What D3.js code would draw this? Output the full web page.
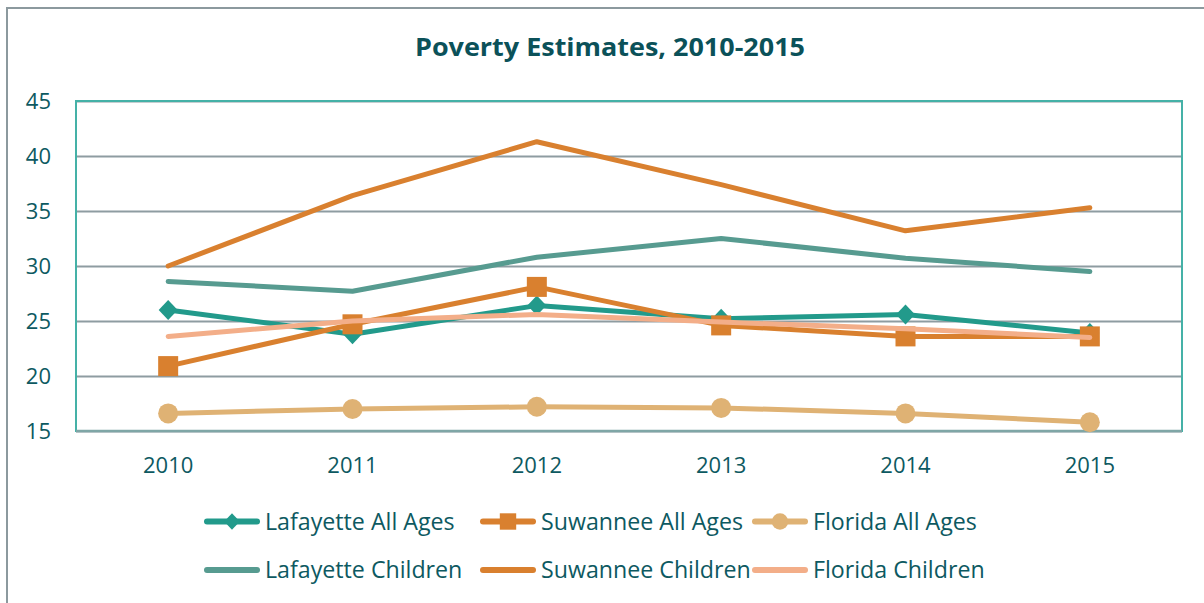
<!DOCTYPE html>
<html><head><meta charset="utf-8">
<script src="https://cdn.jsdelivr.net/npm/d3@7/dist/d3.min.js"></script>
<style>html,body{margin:0;padding:0;background:#fff;}svg{display:block;}</style>
</head><body>
<script>
const years = ["2010","2011","2012","2013","2014","2015"];
const yTicks = [15,20,25,30,35,40,45];
const seriesNames = ["Lafayette All Ages","Suwannee All Ages","Florida All Ages","Lafayette Children","Suwannee Children","Florida Children"];
const lafayetteAll = [26.0,23.8,26.4,25.2,25.6,23.9];
const suwanneeAll = [20.9,24.7,28.1,24.6,23.6,23.6];
const floridaAll = [16.6,17.0,17.2,17.1,16.6,15.8];
const lafayetteChildren = [28.6,27.7,30.8,32.5,30.7,29.5];
const suwanneeChildren = [30.0,36.4,41.3,37.4,33.2,35.3];
const floridaChildren = [23.6,25.0,25.6,24.9,24.3,23.5];

const W=1204,H=603;
const TXT="#0D5961";
const styles=[
 {color:"#229A8B",marker:"diamond"},
 {color:"#D9802F",marker:"square"},
 {color:"#DFB274",marker:"circle"},
 {color:"#579B90",marker:null},
 {color:"#D9802F",marker:null},
 {color:"#F3AE89",marker:null}
];
const data=[lafayetteAll,suwanneeAll,floridaAll,lafayetteChildren,suwanneeChildren,floridaChildren];

const svg=d3.select("body").append("svg").attr("width",W).attr("height",H);
svg.append("rect").attr("width",W).attr("height",H).attr("fill","#fff");
// outer border
svg.append("rect").attr("x",7).attr("y",8).attr("width",W+20).attr("height",H+20)
  .attr("fill","none").attr("stroke","#8C999E").attr("stroke-width",2);

const plot={l:76,t:101,r:1182,b:431};
const x=d3.scaleBand().domain(years).range([plot.l,plot.r]);
const y=d3.scaleLinear().domain([15,45]).range([plot.b,plot.t]);

svg.append("text").attr("x",415).attr("y",56)
  .attr("font-family","'Open Sans',sans-serif")
  .attr("font-weight","bold").attr("font-size",24.5).attr("fill","#0B5159")
  .attr("textLength",390).attr("lengthAdjust","spacingAndGlyphs")
  .text("Poverty Estimates, 2010-2015");

// gridlines
const yAxis=d3.axisLeft(y).tickValues(yTicks).tickSize(-(plot.r-plot.l)).tickFormat(d3.format("d")).tickPadding(25);
const gy=svg.append("g").attr("transform",`translate(${plot.l},0)`).call(yAxis);
gy.select(".domain").remove();
gy.selectAll(".tick line").attr("stroke","#8E9CA1").attr("stroke-width",2);
gy.selectAll(".tick text").attr("font-family","'Open Sans',sans-serif").attr("font-size",22).attr("fill",TXT);

// plot border
svg.append("rect").attr("x",plot.l).attr("y",plot.t).attr("width",plot.r-plot.l).attr("height",plot.b-plot.t)
  .attr("fill","none").attr("stroke","#45B1A7").attr("stroke-width",2);
svg.append("line").attr("x1",plot.l).attr("x2",plot.r).attr("y1",plot.b).attr("y2",plot.b)
  .attr("stroke","#7FA6A6").attr("stroke-width",2.5);

const xAxis=d3.axisBottom(x).tickSize(0).tickPadding(26);
const gx=svg.append("g").attr("transform",`translate(0,${plot.b})`).call(xAxis);
gx.select(".domain").remove();
gx.selectAll(".tick text").attr("font-family","'Open Sans',sans-serif").attr("font-size",22).attr("fill",TXT);

const line=d3.line().x((d,i)=>x(years[i])+x.bandwidth()/2).y(d=>y(d));

function marker(g,type,cx,cy,color,s){
  if(type==="diamond"){
    g.append("path").attr("d",`M${cx},${cy-10*s}L${cx+9.5*s},${cy}L${cx},${cy+10*s}L${cx-9.5*s},${cy}Z`).attr("fill",color);
  } else if(type==="square"){
    g.append("rect").attr("x",cx-10*s).attr("y",cy-10*s).attr("width",20*s).attr("height",20*s).attr("fill",color);
  } else if(type==="circle"){
    g.append("circle").attr("cx",cx).attr("cy",cy).attr("r",10*s).attr("fill",color);
  }
}

data.forEach((vals,k)=>{
  const st=styles[k];
  const g=svg.append("g");
  g.append("path").datum(vals).attr("d",line).attr("fill","none").attr("stroke",st.color)
    .attr("stroke-width",5).attr("stroke-linejoin","round").attr("stroke-linecap","round");
  if(st.marker) vals.forEach((v,i)=>marker(g,st.marker,x(years[i])+x.bandwidth()/2,y(v),st.color,1));
});

// legend
const cols=[204,480,752];
const rows=[521.5,570];
const lg=svg.append("g");
seriesNames.forEach((name,k)=>{
  const cx=cols[k%3], cy=rows[Math.floor(k/3)];
  const st=styles[k];
  lg.append("line").attr("x1",cx+3).attr("x2",cx+53).attr("y1",cy).attr("y2",cy)
    .attr("stroke",st.color).attr("stroke-width",6).attr("stroke-linecap","round");
  if(st.marker) marker(lg,st.marker,cx+28,cy,st.color,0.82);
  lg.append("text").attr("x",cx+61).attr("y",cy+8.3)
    .attr("font-family","'Open Sans',sans-serif").attr("font-size",23.2).attr("fill",TXT).text(name);
});
</script>
</body></html>
